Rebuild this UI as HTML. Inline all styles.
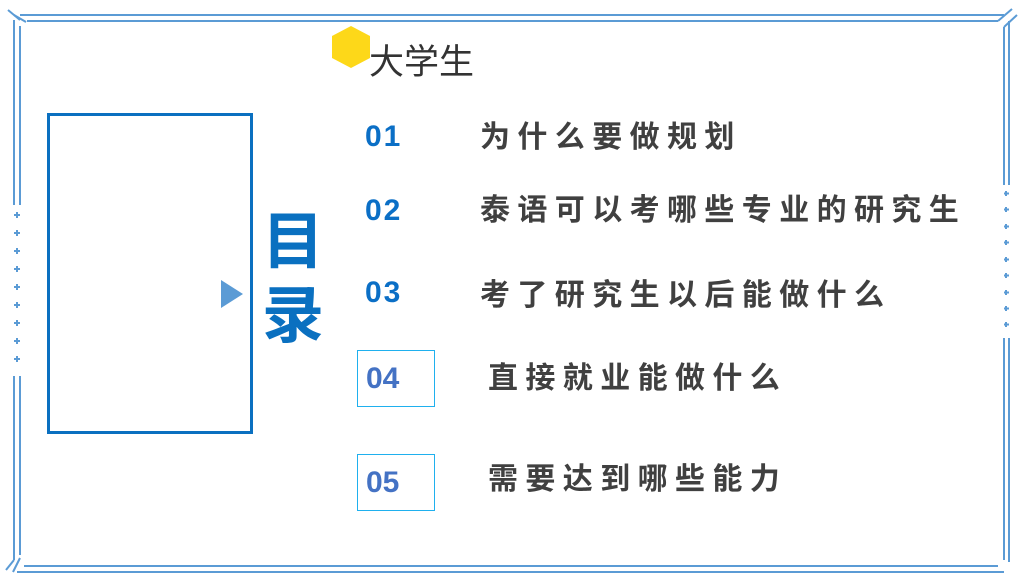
<!DOCTYPE html>
<html><head><meta charset="utf-8"><style>
html,body{margin:0;padding:0;background:#fff;}
body{width:1035px;height:583px;position:relative;overflow:hidden;font-family:"Liberation Sans","Noto Sans CJK SC",sans-serif;}
.t{position:absolute;white-space:nowrap;line-height:1;}
.item{font-size:30px;font-weight:bold;color:#404040;letter-spacing:7.4px;}
.num{font-size:30px;font-weight:bold;color:#0b6fc6;letter-spacing:2px;}
.box{position:absolute;border:1px solid #1fb0ee;width:76px;height:55px;}
.n45{font-size:30px;font-weight:bold;color:#4472c4;}
</style></head><body>
<svg width="1035" height="583" style="position:absolute;left:0;top:0">
<g stroke="#5b9bd5" stroke-width="2" fill="none">
<line x1="20" y1="15" x2="1004" y2="15"/>
<line x1="27" y1="21" x2="998" y2="21"/>
<line x1="14" y1="20" x2="14" y2="205"/>
<line x1="20" y1="26" x2="20" y2="205"/>
<line x1="14" y1="376" x2="14" y2="560"/>
<line x1="20" y1="376" x2="20" y2="555"/>
<line x1="8" y1="10" x2="20" y2="20"/>
<line x1="14" y1="15" x2="26" y2="22"/>
<line x1="24" y1="566" x2="998" y2="566"/>
<line x1="17" y1="572" x2="1004" y2="572"/>
<line x1="14" y1="560" x2="6" y2="570"/>
<line x1="20" y1="558" x2="13" y2="572"/>
<line x1="1004" y1="27" x2="1004" y2="185"/>
<line x1="1009" y1="21" x2="1009" y2="185"/>
<line x1="1004" y1="338" x2="1004" y2="560"/>
<line x1="1009" y1="338" x2="1009" y2="562"/>
<line x1="998" y1="21" x2="1012" y2="9"/>
<line x1="1004" y1="27" x2="1017" y2="15"/>
</g>
<polygon points="351,26 370,36 370,58 351,68 332,58 332,36" fill="#fdd819"/>
<rect x="48.5" y="114.5" width="203" height="318" fill="none" stroke="#0a70c0" stroke-width="3"/>
<polygon points="221,280 243,294 221,308" fill="#5b9bd5"/>
<g stroke="#5b9bd5" stroke-width="2">
<path d="M17 212v6M14 215h6 M17 230v6M14 233h6 M17 248v6M14 251h6 M17 266v6M14 269h6 M17 284v6M14 287h6 M17 302v6M14 305h6 M17 320v6M14 323h6 M17 338v6M14 341h6 M17 356v6M14 359h6"/>
<path d="M1006 191v5M1004 193.5h5 M1006 207v5M1004 209.5h5 M1006 224v5M1004 226.5h5 M1006 240v5M1004 242.5h5 M1006 257v5M1004 259.5h5 M1006 273v5M1004 275.5h5 M1006 290v5M1004 292.5h5 M1006 306v5M1004 308.5h5 M1006 322v5M1004 324.5h5"/>
</g>
</svg>
<div class="t" style="left:369px;top:45px;font-size:35px;color:#333;">大学生</div>
<div class="t" style="left:258px;top:206px;font-size:62px;font-weight:bold;color:#0a70c0;line-height:74px;width:70px;text-align:center;">目<br>录</div>
<div class="t num" style="left:365px;top:122px;">01</div>
<div class="t num" style="left:365px;top:196px;">02</div>
<div class="t num" style="left:365px;top:278px;">03</div>
<div class="t item" style="left:480px;top:123px;">为什么要做规划</div>
<div class="t item" style="left:480px;top:196px;">泰语可以考哪些专业的研究生</div>
<div class="t item" style="left:480px;top:281px;">考了研究生以后能做什么</div>
<div class="box" style="left:357px;top:350px;"></div>
<div class="box" style="left:357px;top:454px;"></div>
<div class="t n45" style="left:366px;top:364px;">04</div>
<div class="t n45" style="left:366px;top:468px;">05</div>
<div class="t item" style="left:488px;top:364px;">直接就业能做什么</div>
<div class="t item" style="left:488px;top:465px;">需要达到哪些能力</div>
</body></html>
